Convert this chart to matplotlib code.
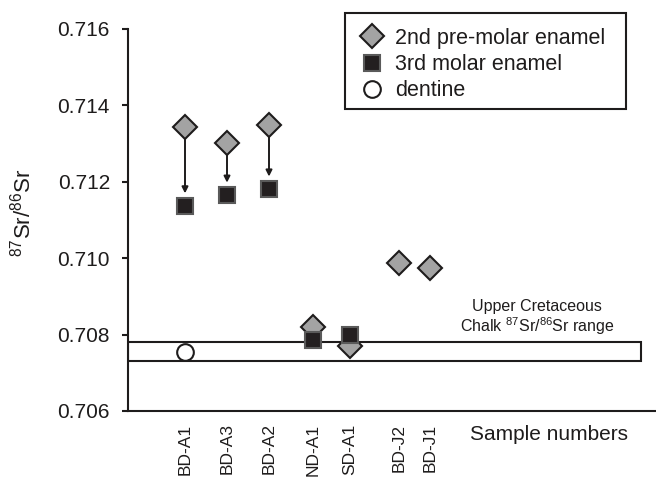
import numpy as np
import matplotlib
matplotlib.use('Agg')
import matplotlib.pyplot as plt
from matplotlib.patches import Rectangle

plt.rcParams['font.family'] = ['Liberation Sans', 'DejaVu Sans']
plt.rcParams['mathtext.fontset'] = 'custom'
plt.rcParams['mathtext.rm'] = 'Liberation Sans'
plt.rcParams['mathtext.it'] = 'Liberation Sans:italic'

# data
samples = ['BD-A1', 'BD-A3', 'BD-A2', 'ND-A1', 'SD-A1', 'BD-J2', 'BD-J1']
premolar = [0.71343, 0.71302, 0.71349, 0.70820, 0.70771, 0.70988, 0.70975]
molar = [0.71137, 0.71165, 0.71181, 0.70787, 0.70798, np.nan, np.nan]
dentine = [0.70755, np.nan, np.nan, np.nan, np.nan, np.nan, np.nan]
chalk_range = [0.70731, 0.70781]

# layout: horizontal placement of the samples (uneven spacing as in the original)
xpos = [57, 99, 141, 185, 222, 271, 302]

ink = '#1e1c1c'
W, H = 656, 478

fig = plt.figure(figsize=(W / 100, H / 100), dpi=100)
ax = fig.add_axes([128 / W, 67 / H, 528 / W, 382 / H])
ax.set_xlim(0, 528)
ax.set_ylim(0.706, 0.716)

# chalk range band
ax.add_patch(Rectangle((0, chalk_range[0]), 513, chalk_range[1] - chalk_range[0],
                       facecolor='white', edgecolor=ink, lw=1.5, zorder=1))
ax.text(409, 0.70795, 'Upper Cretaceous\nChalk $^{87}$Sr/$^{86}$Sr range',
        ha='center', va='bottom', fontsize=11.5, color=ink, linespacing=1.05)

# arrows from 2nd pre-molar to 3rd molar where the shift is large
for x, p, m in zip(xpos, premolar, molar):
    if not np.isnan(m) and p - m > 0.001:
        ax.annotate('', xy=(x, m), xytext=(x, p),
                    arrowprops=dict(arrowstyle='-|>', color=ink, lw=1.4,
                                    mutation_scale=9, shrinkA=8.5, shrinkB=9),
                    zorder=2)

ax.plot(xpos, premolar, ls='none', marker='D', ms=12, mfc='#a3a3a3', mec=ink,
        mew=1.5, zorder=3, label='2nd pre-molar enamel')
ax.plot(xpos, molar, ls='none', marker='s', ms=12, mfc='#231f20', mec='#5a5a5a',
        mew=1.5, zorder=4, label='3rd molar enamel')
ax.plot(xpos, dentine, ls='none', marker='o', ms=12, mfc='white', mec=ink,
        mew=1.5, zorder=4, label='dentine')

ax.set_yticks(np.arange(0.706, 0.7161, 0.002))
ax.set_yticklabels([f'{v:.3f}' for v in np.arange(0.706, 0.7161, 0.002)])
ax.tick_params(axis='y', direction='out', length=4, width=1.5, pad=9,
               labelsize=15, colors=ink)
ax.set_xticks(xpos)
ax.set_xticklabels(samples, rotation=90, fontsize=12.5, color=ink)
ax.tick_params(axis='x', length=0, pad=9)

for s in ['top', 'right']:
    ax.spines[s].set_visible(False)
for s in ['left', 'bottom']:
    ax.spines[s].set_linewidth(1.5)
    ax.spines[s].set_color(ink)

ax.set_ylabel('$^{87}$Sr/$^{86}$Sr', fontsize=16, color=ink)
ax.yaxis.set_label_coords(-0.175, 0.52)

fig.text(470 / W, 1 - 435 / H, 'Sample numbers', fontsize=15, color=ink,
         ha='left', va='center')

# legend entries without frame, frame drawn separately
leg = ax.legend(loc='upper left', bbox_to_anchor=(358 / W, 1 - 28 / H),
                bbox_transform=fig.transFigure, fontsize=15.5, frameon=False,
                borderpad=0, labelspacing=0.24, handletextpad=0.42,
                handlelength=1.3, borderaxespad=0)
for t in leg.get_texts():
    t.set_color(ink)
fig.patches.append(Rectangle((345 / W, 1 - 109 / H), 281 / W, 96 / H,
                             transform=fig.transFigure, facecolor='none',
                             edgecolor=ink, lw=1.5))

fig.savefig('out.png', dpi=100)
